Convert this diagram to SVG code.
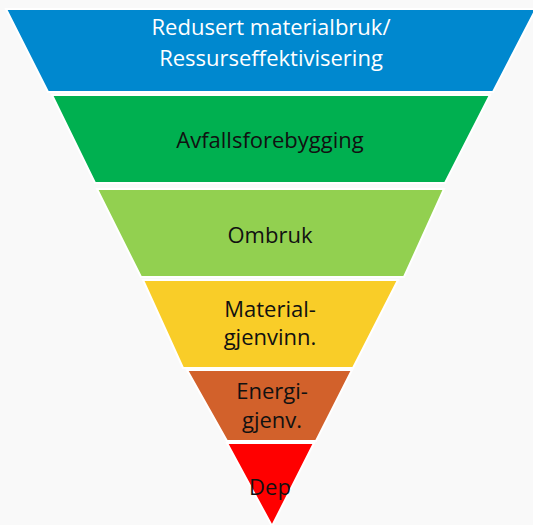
<svg xmlns="http://www.w3.org/2000/svg" width="533" height="525" viewBox="0 0 533 525">
<style>
.band{stroke:#ffffff;stroke-width:2;stroke-linejoin:miter}
.t{font-family:"Segoe UI","Open Sans","Noto Sans","Liberation Sans",sans-serif;font-size:22px;text-anchor:middle;fill:#111111}
.w{fill:#ffffff}
</style>
<rect x="0" y="0" width="533" height="525" fill="#f9f9f9"/>
<g id="band-redusert">
<polygon class="band" fill="#0088cf" points="6,9 536,9 493,92 48,92"/>
<text class="t w" x="271" y="35">Redusert materialbruk/</text>
<text class="t w" x="271" y="66">Ressurseffektivisering</text>
</g>
<g id="band-avfallsforebygging">
<polygon class="band" fill="#00b050" points="52,95 490,95 445,183 95,183"/>
<text class="t" x="270" y="148">Avfallsforebygging</text>
</g>
<g id="band-ombruk">
<polygon class="band" fill="#92d050" points="97,189 444,189 404,277 141,277"/>
<text class="t" x="270" y="243">Ombruk</text>
</g>
<g id="band-materialgjenvinning">
<polygon class="band" fill="#f9cd28" points="143,280 398,280 353,368 183,368"/>
<text class="t" x="270" y="317">Material-</text>
<text class="t" x="270" y="345">gjenvinn.</text>
</g>
<g id="band-energigjenvinning">
<polygon class="band" fill="#d2612b" points="187,370 352,370 316,441 227,441"/>
<text class="t" x="272" y="399">Energi-</text>
<text class="t" x="272" y="428">gjenv.</text>
</g>
<g id="band-deponi">
<polygon class="band" fill="#ff0000" points="227,443 314,443 272,526"/>
<text class="t" x="270" y="495">Dep</text>
</g>
<g id="connectors"></g>
</svg>
